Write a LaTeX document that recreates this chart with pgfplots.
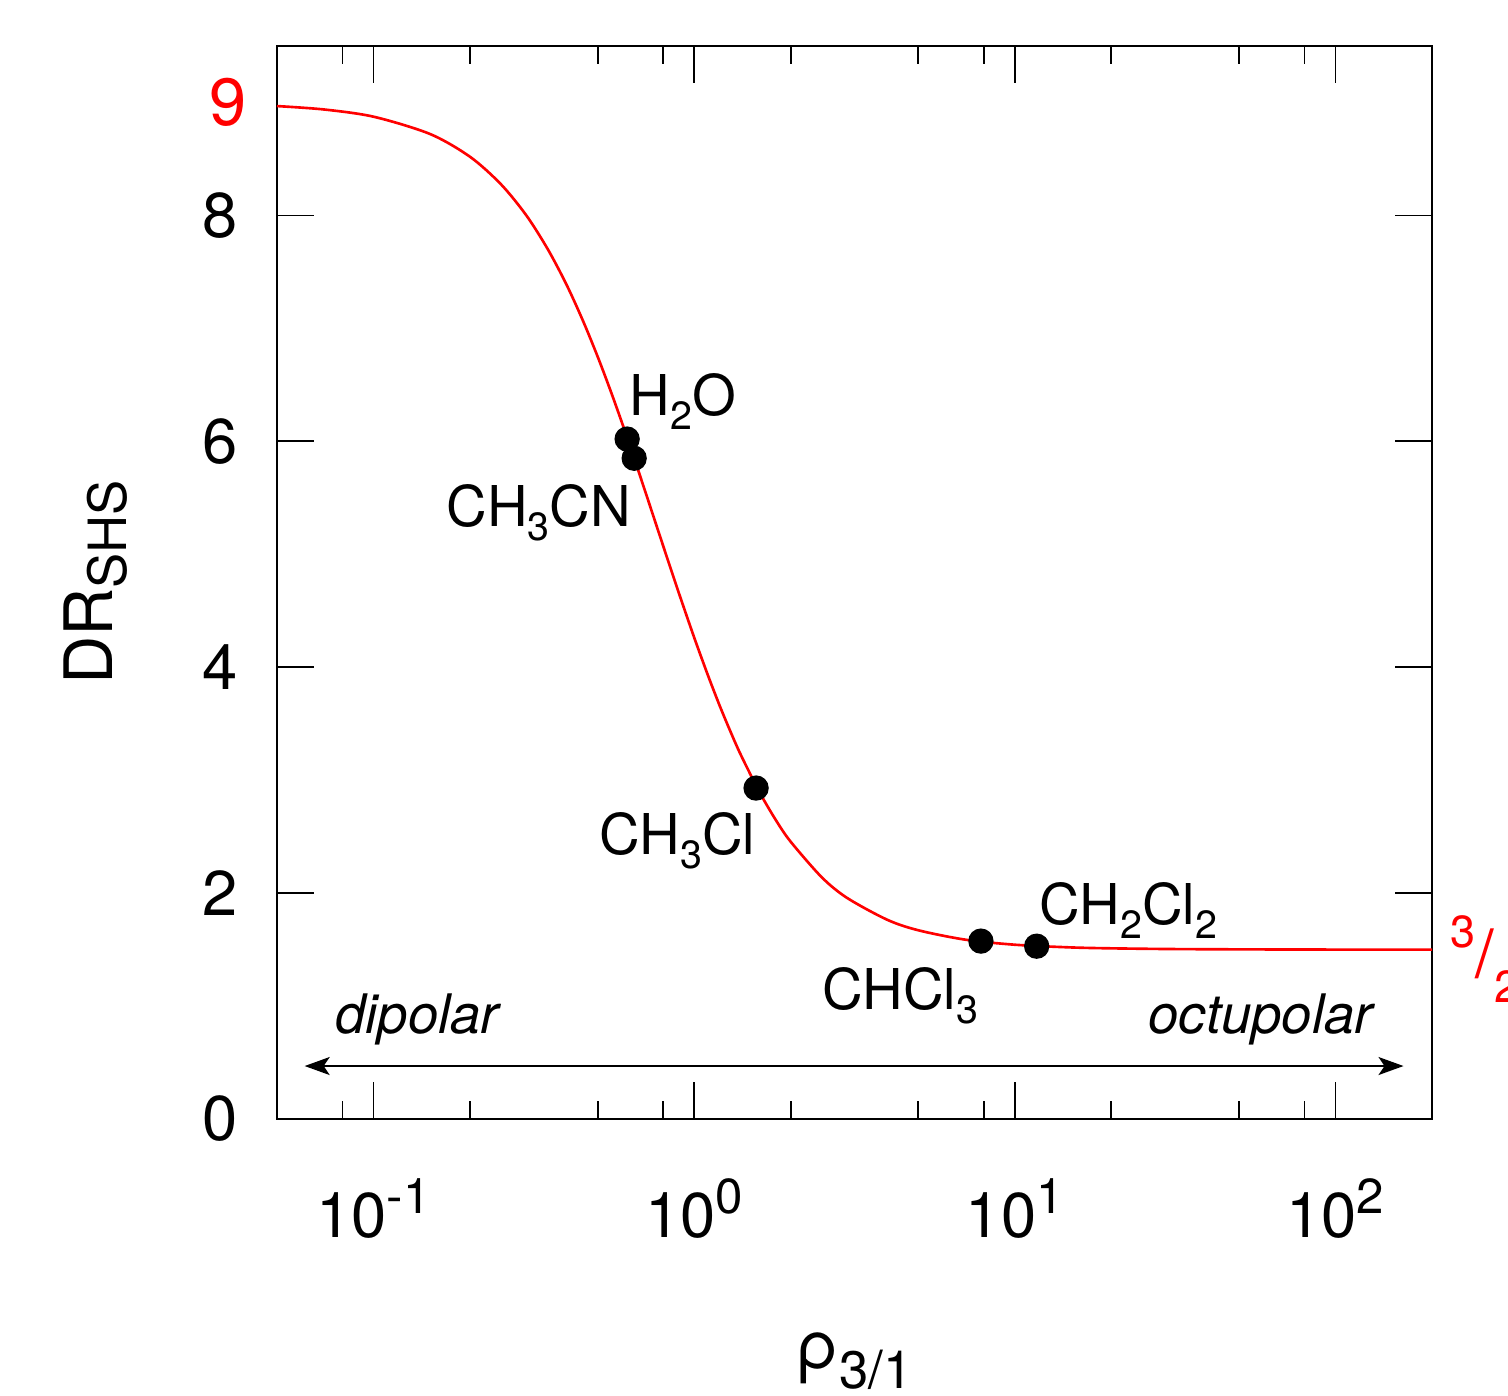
\documentclass[border=0pt]{standalone}
\usepackage{fontspec}
\setmainfont{TeX Gyre Heros}
\usepackage{pgfplots}
\pgfplotsset{compat=1.18}
\usetikzlibrary{arrows.meta}

% subscript for the chemical labels, superscript for the decade labels
\newcommand\chs[1]{\raisebox{-0.14cm}{\fontsize{11.2}{12}\selectfont #1}}
\newcommand\expo[1]{\raisebox{0.24cm}{\fontsize{14}{14}\selectfont #1}}

\begin{document}
\begin{tikzpicture}
\begin{axis}[
  xmode=log,
  scale only axis,
  width=11.55cm, height=10.73cm,
  xmin=0.05, xmax=200, ymin=0, ymax=9.5,
  clip=false,
  axis line style={line width=0.6pt},
  tick style={line width=0.5pt, black},
  tick align=inside,
  major tick length=0.37cm,
  minor tick length=0.18cm,
  xtick={0.1,1,10,100},
  xticklabels={10\expo{-1},10\expo{0},10\expo{1},10\expo{2}},
  minor xtick={0.08,0.2,0.5,0.8,2,5,8,20,50,80},
  ytick={0,2,4,6,8},
  yticklabels={0,2,4,6,8},
  xticklabel pos=lower, yticklabel pos=left,
  xtick pos=both, ytick pos=both,
  xticklabel style={font=\fontsize{18}{20}\selectfont, anchor=base, inner sep=0pt, yshift=-1.18cm},
  yticklabel style={font=\fontsize{18}{20}\selectfont, anchor=east, inner sep=0pt, xshift=-0.39cm},
  xlabel={ρ\raisebox{-0.2cm}{\fontsize{15}{15}\selectfont 3/1}},
  ylabel={DR\raisebox{-0.14cm}{\fontsize{15}{15}\selectfont SHS}},
  every axis x label/.style={at={(rel axis cs:0.5,0)}, anchor=base, inner sep=0pt, yshift=-2.49cm, font=\fontsize{19}{20}\selectfont},
  every axis y label/.style={at={(rel axis cs:0,0.5)}, rotate=90, anchor=base, inner sep=0pt, yshift=1.64cm, font=\fontsize{19}{20}\selectfont},
]
\coordinate (bl) at (rel axis cs:0,0);
\coordinate (tr) at (rel axis cs:1,1);

% DR_SHS as a function of rho_3/1
\addplot[red, line width=0.75pt, smooth] coordinates {
(0.05,8.968) (0.07,8.938) (0.1,8.874) (0.15,8.721) (0.2,8.519)
(0.25,8.274) (0.3,7.998) (0.35,7.698) (0.4,7.386) (0.45,7.067)
(0.5,6.750) (0.55,6.439) (0.6,6.138) (0.65,5.850) (0.7,5.576)
(0.75,5.318) (0.8,5.076) (0.85,4.850) (0.9,4.640) (1.0,4.263)
(1.1,3.940) (1.2,3.662) (1.3,3.425) (1.4,3.220) (1.6,2.892)
(1.8,2.644) (2.0,2.455) (2.5,2.140) (3,1.957) (4,1.764)
(5,1.671) (7,1.588) (10,1.543) (15,1.519) (20,1.511)
(30,1.505) (50,1.502) (100,1.500) (200,1.500)
};

% molecules
\addplot[only marks, mark=*, mark size=3.4pt, black] coordinates {
(0.618,6.02) (0.650,5.85) (1.56,2.93) (7.84,1.575) (11.7,1.53)
};

% arrow
\addplot[black, line width=0.5pt, {Stealth[length=0.25cm, width=0.18cm, inset=0.06cm]}-{Stealth[length=0.25cm, width=0.18cm, inset=0.06cm]}]
  coordinates {(0.061,0.469) (163,0.469)};

\begin{scope}[every node/.style={inner sep=0pt, font=\fontsize{16}{18}\selectfont}]
\node[anchor=base west] at (axis cs:0.627,6.23) {H\chs{2}O};
\node[anchor=base east] at (axis cs:0.637,5.25) {CH\chs{3}CN};
\node[anchor=base east] at (axis cs:1.56,2.345) {CH\chs{3}Cl};
\node[anchor=base east] at (axis cs:7.72,0.973) {CHCl\chs{3}};
\node[anchor=base west] at (axis cs:11.9,1.726) {CH\chs{2}Cl\chs{2}};
\node[anchor=base west, font=\fontsize{15.5}{18}\selectfont\itshape] at (axis cs:0.0757,0.76) {dipolar};
\node[anchor=base east, font=\fontsize{15.5}{18}\selectfont\itshape] at (axis cs:131.3,0.76) {octupolar};
\end{scope}

\node[red, anchor=east, inner sep=0pt, font=\fontsize{19}{20}\selectfont, xshift=-0.30cm] at (axis cs:0.05,9) {9};
\node[red, anchor=base west, inner sep=0pt, font=\fontsize{19}{20}\selectfont, xshift=0.18cm] at (axis cs:200,1.257)
  {\raisebox{0.3cm}{\fontsize{12.8}{13}\selectfont 3}/\raisebox{-0.25cm}{\fontsize{12.8}{13}\selectfont 2}};
\end{axis}
\pgfresetboundingbox
\path[use as bounding box] ([xshift=-2.77cm, yshift=-2.76cm]bl) rectangle ([xshift=0.76cm, yshift=0.46cm]tr);
\end{tikzpicture}
\end{document}
